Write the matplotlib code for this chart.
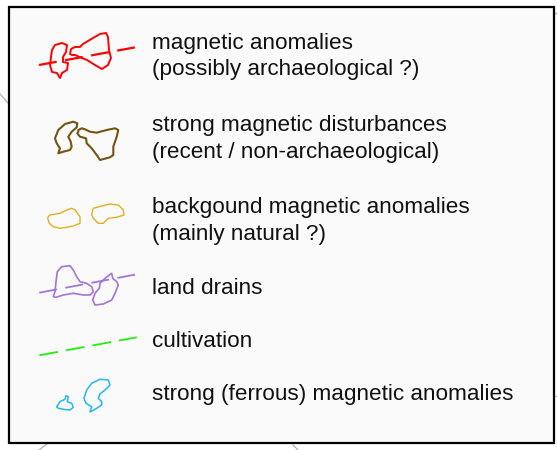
import matplotlib
matplotlib.use("Agg")
import matplotlib.pyplot as plt
from matplotlib.patches import Polygon, Rectangle
import numpy as np

plt.rcParams['font.family'] = ['Liberation Sans', 'DejaVu Sans']
plt.rcParams['lines.scale_dashes'] = False

# ---- legend labels (two-line entries joined by \n) ----
labels = [
    "magnetic anomalies\n(possibly archaeological ?)",
    "strong magnetic disturbances\n(recent / non-archaeological)",
    "backgound magnetic anomalies\n(mainly natural ?)",
    "land drains",
    "cultivation",
    "strong (ferrous) magnetic anomalies",
]
colors = ["#ff0000", "#735513", "#e5ae22", "#a274dc", "#22ee11", "#22b8ee"]
# baselines of each text line (pixels from top)
baselines = [[49, 75.5], [131.5, 158], [213.5, 240], [293.5], [347], [400]]

# ---- symbol outlines (pixel coords) ----
red_a = [(52,50),(55,45),(62,43),(67,45),(66,52),(63,57),(63,62),(68,63),(67,70),(62,73),(60,78),(57,73),(52,72),(50,65),(51,57)]
red_b = [(70,54),(71,49),(75,47),(80,47),(83,44),(93,38),(100,34),(106,33),(108,37),(109,50),(111,58),(108,65),(102,69),(95,65),(87,60),(82,58),(75,55),(72,55)]
red_dash = [(39,65),(137,47)]

brown_a = [(58.3,153.3),(60,148.3),(56.7,143.3),(55,138.3),(58.3,130),(65,124),(73.3,121.7),(77.3,123.3),(76.7,127.3),(71.7,131.7),(68.3,136.7),(70.7,141.7),(71.7,146.7),(70,150),(63.3,151.7)]
brown_b = [(78.3,131.7),(78.3,130),(81.7,128.3),(85,129.3),(90,131.7),(96.7,132.7),(106.7,130),(115,128.3),(118.3,130),(116.7,136.7),(113.3,146.7),(113.3,155),(110,157.3),(100,160),(96.7,155),(91.7,148.3),(86.7,143.3),(86,138.3),(80,136.7),(77.3,133.3)]

yellow_a = [(48.3,216.7),(50,215),(60,213.3),(66.7,210),(71.7,208.3),(75,210),(80,216.7),(80,223.3),(73.3,226),(66.7,227.3),(60,228.3),(53.3,226.7),(49.3,223.3),(47.7,218.3)]
yellow_b = [(93.3,208.3),(101.7,206),(110,204),(118.3,205),(123.3,210),(124,215),(116.7,217.3),(108.3,218.3),(103.3,223.3),(98.3,223.3),(93.3,218.3),(91.7,215),(92.7,210)]

purple_a = [(53.3,296.7),(55,291.7),(56,281.7),(57.3,271.7),(61.7,266.7),(70,265.7),(73.3,270),(76.7,276.7),(80,281.7),(86.7,283.3),(91.7,286.7),(93.3,291.7),(90,295),(83.3,295),(73.3,293.3),(63.3,295),(56,297.3)]
purple_b = [(100,283.3),(105,278.3),(111.7,273.3),(112.7,278.3),(116.7,281.7),(118.3,285),(115,293.3),(111.7,300),(103.3,304),(95,305),(92.7,300),(95,293.3),(99.3,288.3)]
purple_dash = [(39.3,292.7),(136.7,274.3)]

green_dash = [(39.3,355.3),(136.7,337.3)]

cyan_a = [(56.7,406.7),(60,401.7),(65,399.3),(66,395.7),(68.3,396.7),(67.3,401.7),(71.7,403.3),(73.3,407.3),(70,410),(63.3,409.3),(58.3,408.3)]
cyan_b = [(90,411.7),(91.7,406.7),(86,403.3),(84,398.3),(86.7,390),(91.7,383.3),(100,379.3),(108.3,380),(110,385),(105,390),(100,394),(98.3,398.3),(101.7,401.7),(101.7,405),(96.7,408.3),(90.7,411.7)]

# faint background map lines peeking out around the box
map_lines = [[(0,94),(8,103)], [(47,444),(39,450)], [(293,445),(298,450)],
             [(554,396),(557,396)], [(554,15),(557,13)]]

W, H = 557, 450
fig = plt.figure(figsize=(W/100, H/100), dpi=100)
ax = fig.add_axes([0, 0, 1, 1])
ax.set_xlim(0, W)
ax.set_ylim(H, 0)
ax.axis('off')

for seg in map_lines:
    xs, ys = zip(*seg)
    ax.plot(xs, ys, color="#a8a8a8", lw=0.8, zorder=0)

ax.add_patch(Rectangle((9, 6.5), 545, 436.5, facecolor="#fafafa",
                       edgecolor="black", lw=1.6, zorder=1))

def shape(pts, color, lw):
    ax.add_patch(Polygon(pts, closed=True, fill=False, edgecolor=color,
                         lw=lw, joinstyle='round', zorder=3))

def dash(pts, color, lw, on=18, off=8.5):
    xs, ys = zip(*pts)
    ax.plot(xs, ys, color=color, lw=lw, dashes=(on*0.72, off*0.72),
            solid_capstyle='butt', dash_capstyle='butt', zorder=3)

shape(red_a, colors[0], 1.4)
shape(red_b, colors[0], 1.4)
dash(red_dash, colors[0], 1.6)
shape(brown_a, colors[1], 1.5)
shape(brown_b, colors[1], 1.5)
shape(yellow_a, colors[2], 1.0)
shape(yellow_b, colors[2], 1.0)
shape(purple_a, colors[3], 1.2)
shape(purple_b, colors[3], 1.2)
dash(purple_dash, colors[3], 1.3)
dash(green_dash, colors[4], 1.3, on=19, off=8)
shape(cyan_a, colors[5], 1.1)
shape(cyan_b, colors[5], 1.1)

for lab, bls in zip(labels, baselines):
    for line, b in zip(lab.split("\n"), bls):
        ax.text(152, b, line, fontsize=16.2, color="#111111",
                va='baseline', ha='left', zorder=4)

fig.savefig("out.png", dpi=100)
